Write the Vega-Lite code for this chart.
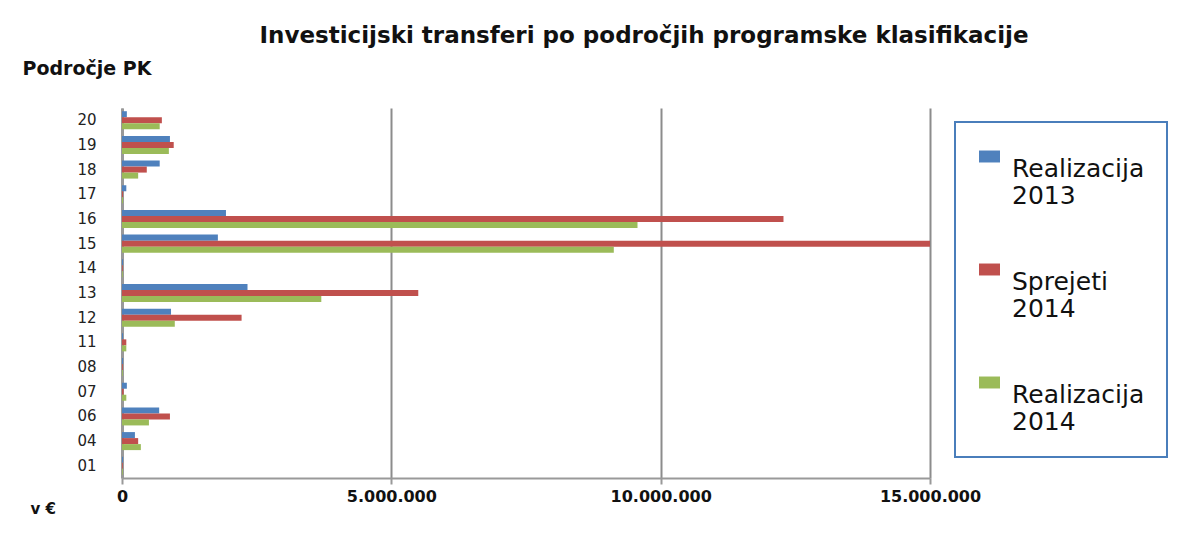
{
  "$schema": "https://vega.github.io/schema/vega-lite/v6.json",
  "width": 808,
  "height": 370,
  "autosize": {"type": "none"},
  "padding": {"left": 122, "top": 108, "right": 270, "bottom": 59},
  "background": "white",
  "title": {
    "text": "Investicijski transferi po področjih programske klasifikacije",
    "font": "DejaVu Sans",
    "fontSize": 23,
    "fontWeight": "bold",
    "color": "#111",
    "anchor": "middle",
    "dx": 118,
    "baseline": "middle",
    "offset": 0
  },
  "data": {
    "values": [
      {"cat": "20", "series": "Realizacija 2013", "value": 90000},
      {"cat": "20", "series": "Sprejeti 2014", "value": 740000},
      {"cat": "20", "series": "Realizacija 2014", "value": 700000},
      {"cat": "19", "series": "Realizacija 2013", "value": 890000},
      {"cat": "19", "series": "Sprejeti 2014", "value": 960000},
      {"cat": "19", "series": "Realizacija 2014", "value": 870000},
      {"cat": "18", "series": "Realizacija 2013", "value": 700000},
      {"cat": "18", "series": "Sprejeti 2014", "value": 460000},
      {"cat": "18", "series": "Realizacija 2014", "value": 300000},
      {"cat": "17", "series": "Realizacija 2013", "value": 80000},
      {"cat": "17", "series": "Sprejeti 2014", "value": 20000},
      {"cat": "17", "series": "Realizacija 2014", "value": 20000},
      {"cat": "16", "series": "Realizacija 2013", "value": 1930000},
      {"cat": "16", "series": "Sprejeti 2014", "value": 12280000},
      {"cat": "16", "series": "Realizacija 2014", "value": 9570000},
      {"cat": "15", "series": "Realizacija 2013", "value": 1780000},
      {"cat": "15", "series": "Sprejeti 2014", "value": 15000000},
      {"cat": "15", "series": "Realizacija 2014", "value": 9130000},
      {"cat": "14", "series": "Realizacija 2013", "value": 20000},
      {"cat": "14", "series": "Sprejeti 2014", "value": 15000},
      {"cat": "14", "series": "Realizacija 2014", "value": 15000},
      {"cat": "13", "series": "Realizacija 2013", "value": 2330000},
      {"cat": "13", "series": "Sprejeti 2014", "value": 5500000},
      {"cat": "13", "series": "Realizacija 2014", "value": 3700000},
      {"cat": "12", "series": "Realizacija 2013", "value": 910000},
      {"cat": "12", "series": "Sprejeti 2014", "value": 2220000},
      {"cat": "12", "series": "Realizacija 2014", "value": 980000},
      {"cat": "11", "series": "Realizacija 2013", "value": 20000},
      {"cat": "11", "series": "Sprejeti 2014", "value": 80000},
      {"cat": "11", "series": "Realizacija 2014", "value": 80000},
      {"cat": "08", "series": "Realizacija 2013", "value": 20000},
      {"cat": "08", "series": "Sprejeti 2014", "value": 15000},
      {"cat": "08", "series": "Realizacija 2014", "value": 15000},
      {"cat": "07", "series": "Realizacija 2013", "value": 90000},
      {"cat": "07", "series": "Sprejeti 2014", "value": 30000},
      {"cat": "07", "series": "Realizacija 2014", "value": 80000},
      {"cat": "06", "series": "Realizacija 2013", "value": 690000},
      {"cat": "06", "series": "Sprejeti 2014", "value": 890000},
      {"cat": "06", "series": "Realizacija 2014", "value": 500000},
      {"cat": "04", "series": "Realizacija 2013", "value": 240000},
      {"cat": "04", "series": "Sprejeti 2014", "value": 300000},
      {"cat": "04", "series": "Realizacija 2014", "value": 350000},
      {"cat": "01", "series": "Realizacija 2013", "value": 20000},
      {"cat": "01", "series": "Sprejeti 2014", "value": 15000},
      {"cat": "01", "series": "Realizacija 2014", "value": 15000}
    ]
  },
  "mark": {"type": "bar", "cornerRadius": 0, "stroke": null},
  "encoding": {
    "y": {
      "field": "cat",
      "type": "nominal",
      "sort": ["20", "19", "18", "17", "16", "15", "14", "13", "12", "11", "08", "07", "06", "04", "01"],
      "scale": {"paddingInner": 0.27, "paddingOuter": 0.13},
      "axis": {
        "title": "Področje PK",
        "titleAngle": 0,
        "titleX": -100,
        "titleY": -40,
        "titleAlign": "left",
        "titleBaseline": "middle",
        "titleFont": "DejaVu Sans",
        "titleFontSize": 19,
        "titleFontWeight": "bold",
        "titleColor": "#111",
        "labelFont": "DejaVu Sans",
        "labelFontSize": 15,
        "labelColor": "#222",
        "labelPadding": 26,
        "ticks": false,
        "domainColor": "#999",
        "domainWidth": 3
      }
    },
    "yOffset": {
      "field": "series",
      "type": "nominal",
      "sort": ["Realizacija 2013", "Sprejeti 2014", "Realizacija 2014"],
      "scale": {"paddingInner": 0, "paddingOuter": 0}
    },
    "x": {
      "field": "value",
      "type": "quantitative",
      "scale": {"domain": [0, 15000000], "nice": false},
      "axis": {
        "values": [0, 5000000, 10000000, 15000000],
        "labelExpr": "replace(format(datum.value, ','), regexp(',', 'g'), '.')",
        "labelFont": "DejaVu Sans",
        "labelFontSize": 16,
        "labelFontWeight": "bold",
        "labelColor": "#111",
        "labelPadding": 4,
        "labelFlush": false,
        "title": "v €",
        "titleX": -92,
        "titleY": 30,
        "titleAlign": "left",
        "titleBaseline": "middle",
        "titleFont": "DejaVu Sans",
        "titleFontSize": 15,
        "titleFontWeight": "bold",
        "titleColor": "#111",
        "grid": true,
        "gridColor": "#8c8c8c",
        "gridWidth": 2,
        "domainColor": "#999",
        "domainWidth": 2,
        "tickColor": "#999",
        "tickWidth": 2,
        "tickSize": 6
      }
    },
    "color": {
      "field": "series",
      "type": "nominal",
      "sort": ["Realizacija 2013", "Sprejeti 2014", "Realizacija 2014"],
      "scale": {
        "domain": ["Realizacija 2013", "Sprejeti 2014", "Realizacija 2014"],
        "range": ["#4f81bd", "#c0504d", "#9bbb59"]
      },
      "legend": {
        "orient": "none",
        "legendX": 833,
        "legendY": 14,
        "title": null,
        "labelExpr": "split(datum.label, ' ')",
        "labelFont": "DejaVu Sans",
        "labelFontSize": 25,
        "labelColor": "#111",
        "labelLimit": 300,
        "labelOffset": 10,
        "labelBaseline": "top",
        "symbolType": "M-1,-0.57H1V0.57H-1Z",
        "symbolSize": 441,
        "symbolStrokeWidth": 0,
        "rowPadding": 48,
        "padding": 22,
        "strokeColor": "#4a7ebb",
        "fillColor": "white",
        "cornerRadius": 0
      }
    }
  },
  "config": {
    "view": {"stroke": null},
    "legend": {"strokeWidth": 2}
  }
}
